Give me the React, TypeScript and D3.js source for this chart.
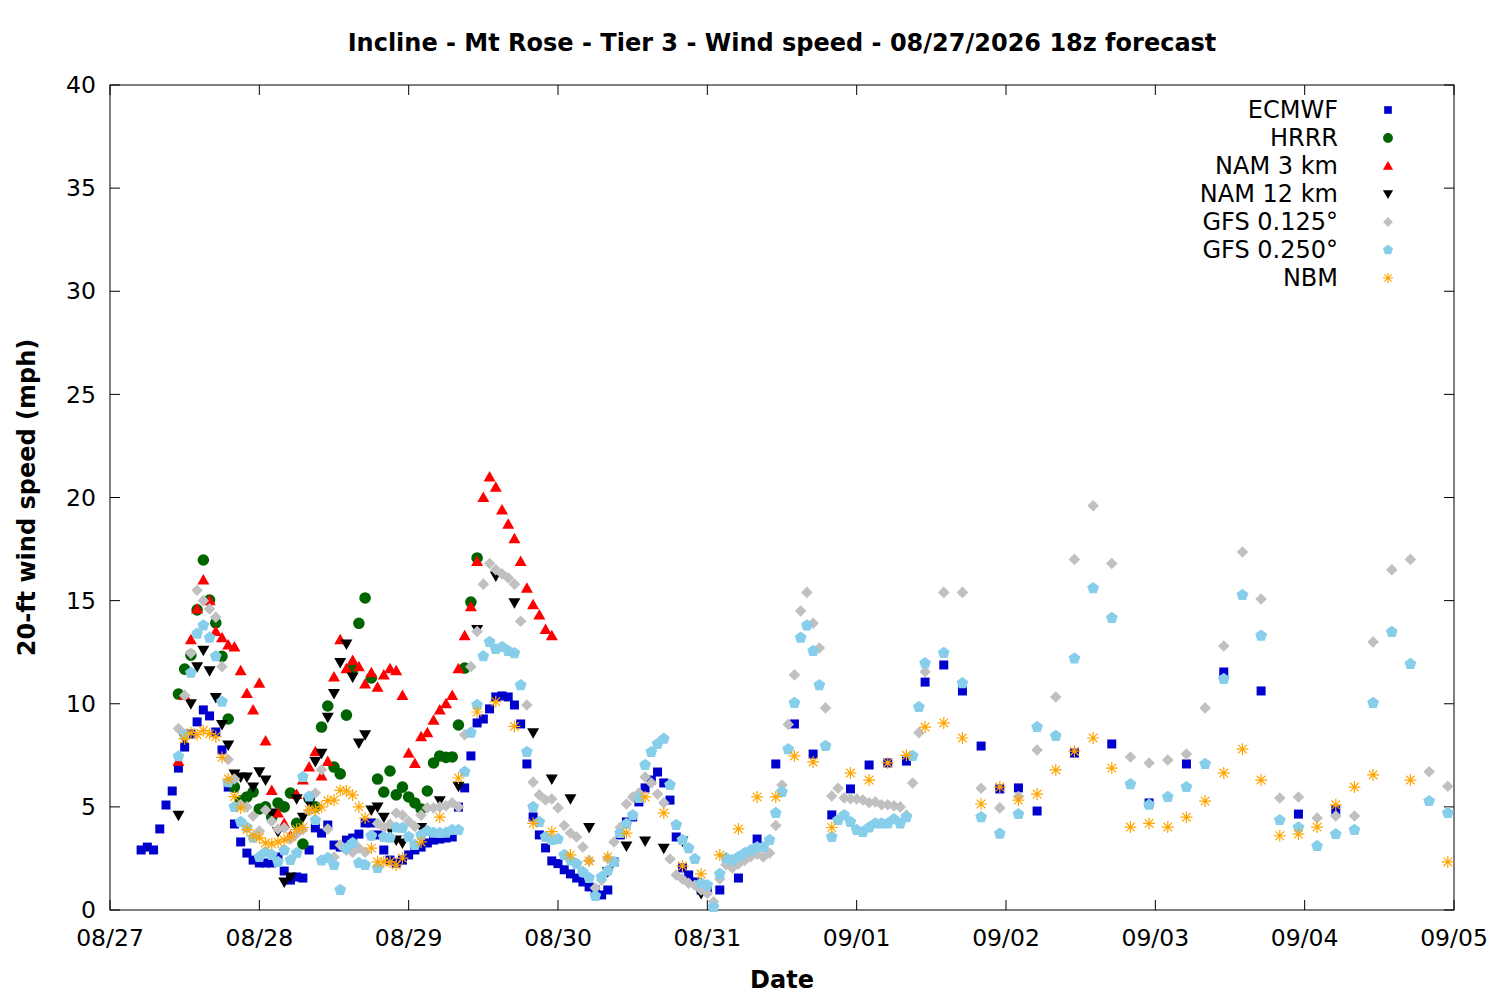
import React, { useEffect, useRef } from "react";
import * as d3 from "d3";

// times are hours after 08/27 00:00 (local)
const hourly = (start: number, n: number) => d3.range(start, start + n);
const stepped = (start: number, end: number, step: number) => d3.range(start, end + 1, step);

const dayLabels = ["08/27", "08/28", "08/29", "08/30", "08/31", "09/01", "09/02", "09/03", "09/04", "09/05"];
const speedTicks = [0, 5, 10, 15, 20, 25, 30, 35, 40];

const ecmwfHours = [...hourly(5, 92), ...stepped(98, 149, 3), ...stepped(155, 197, 6)];
const ecmwfMph = [
  2.91, 3.05, 2.91, 3.93, 5.09, 5.77, 6.88, 7.9, 8.53, 9.12, 9.7, 9.41, 8.63, 7.76, 5.96, 4.17,
  3.3, 2.76, 2.42, 2.28, 2.28, 2.28, 2.57, 1.89, 1.45, 1.6, 1.55, 2.91, 3.98, 3.73, 4.12, 3.15,
  3.05, 3.39, 3.49, 3.68, 4.22, 4.22, 3.64, 2.91, 2.42, 2.28, 2.42, 2.67, 2.91, 3.05, 3.25, 3.39,
  3.44, 3.49, 3.54, 4.99, 5.92, 7.47, 9.07, 9.26, 9.75, 10.33, 10.38, 10.33, 9.94, 9.02, 7.08, 4.51,
  3.64, 3.01, 2.38, 2.25, 1.95, 1.75, 1.55, 1.36, 1.12, 0.97, 0.73, 0.97, 2.33, 3.64, 4.27, 4.51,
  5.24, 5.92, 6.3, 6.69, 6.16, 5.33, 3.54, 2.04, 1.7, 1.36, 0.97, 1.07,
  0.97, 1.55, 3.44, 7.08, 9.02, 7.56, 4.61, 5.87, 7.03, 7.13, 7.22, 11.05, 11.88, 10.62, 7.95, 5.87,
  5.92, 4.8,
  7.61, 8.05, 5.19, 7.08, 11.54, 10.62, 4.65, 4.85,
];

const hrrrHours = hourly(11, 49);
const hrrrMph = [
  10.47, 11.68, 12.36, 14.55, 16.97, 15.03, 13.92, 12.3, 9.26, 5.96, 5.3, 5.48, 5.72, 4.9, 5.0, 4.5,
  5.19, 5.0, 5.67, 4.2, 3.2, 5.4, 5.0, 8.87, 9.89, 6.93, 6.6, 9.45, 11.7, 13.9, 15.13, 11.25,
  6.35, 5.72, 6.74, 5.58, 5.96, 5.48, 5.19, 4.9, 5.77, 7.13, 7.47, 7.4, 7.42, 8.97, 11.73, 14.93,
  17.07,
];

const nam3Hours = hourly(11, 61);
const nam3Mph = [
  7.2, 10.4, 13.1, 14.6, 16.0, 15.0, 13.5, 13.2, 12.85, 12.75, 11.6, 10.5, 9.7, 11.0, 8.2, 5.8,
  4.7, 4.2, 3.6, 5.6, 6.3, 6.93, 7.67, 6.5, 7.2, 11.3, 13.1, 11.7, 12.1, 11.8, 10.96, 11.5,
  10.8, 11.4, 11.7, 11.6, 10.4, 7.6, 7.1, 8.4, 8.6, 9.2, 9.7, 10.0, 10.4, 11.7, 13.3, 14.7,
  16.9, 20.0, 21.0, 20.5, 19.4, 18.7, 18.0, 16.9, 15.6, 14.8, 14.3, 13.6, 13.3,
];

const nam12Hours = [...hourly(11, 37), ...stepped(50, 95, 3)];
const nam12Mph = [
  4.6, 8.3, 10.0, 11.8, 12.6, 11.6, 10.3, 9.0, 8.0, 6.6, 6.45, 6.45, 5.96, 6.7, 6.3, 4.7,
  3.8, 1.36, 1.6, 5.4, 4.5, 5.2, 7.2, 7.6, 9.35, 10.5, 12.0, 12.9, 11.3, 8.1, 8.5, 4.85,
  5.0, 4.5, 3.9, 3.4, 3.25,
  4.0, 5.3, 6.0, 13.6, 16.2, 14.9, 8.6, 6.35, 5.4, 4.0, 1.85, 3.1, 3.35, 3.0, 3.35, 0.8,
];

const gfs125Hours = [...hourly(11, 121), ...stepped(134, 215, 3)];
const gfs125Mph = [
  8.8, 10.4, 12.45, 15.5, 15.0, 14.6, 14.2, 11.8, 7.3, 6.35, 5.1, 5.0, 4.56, 3.83, 4.85, 4.3,
  3.93, 3.98, 3.44, 3.7, 3.9, 4.8, 5.67, 6.8, 3.93, 2.57, 3.15, 2.9, 2.8, 3.0, 2.8, 3.6,
  4.2, 4.0, 4.17, 4.7, 4.6, 4.3, 4.05, 4.6, 4.95, 4.95, 5.0, 5.05, 5.2, 5.0, 8.5, 11.8,
  13.5, 15.8, 16.8, 16.5, 16.3, 16.1, 15.8, 14.0, 9.94, 6.2, 5.58, 5.33, 5.38, 4.95, 4.1, 3.73,
  3.54, 3.05, 2.4, 1.07, 1.45, 2.5, 3.3, 4.0, 5.14, 5.48, 5.67, 6.45, 6.16, 5.62, 5.2, 2.47,
  1.7, 1.5, 1.3, 1.2, 0.97, 0.8, 0.4, 1.5, 2.2, 2.04, 2.23, 2.4, 2.6, 2.7, 2.57, 2.76,
  4.1, 6.06, 9.0, 11.4, 14.5, 15.4, 13.9, 12.7, 9.8, 5.53, 5.9, 5.43, 5.4, 5.38, 5.33, 5.2,
  5.24, 5.1, 5.1, 5.05, 5.0, 4.6, 6.16, 8.6, 11.55,
  15.4, 15.4, 5.9, 4.95, 5.5, 7.76, 10.33, 17.0, 19.6, 16.8, 7.42, 7.13, 7.27, 7.56, 9.8, 12.8,
  17.36, 15.08, 5.43, 5.48, 4.46, 4.56, 4.56, 13.0, 16.5, 17.0, 6.7, 6.0,
];

const gfs250Hours = [...hourly(11, 121), ...stepped(134, 215, 3)];
const gfs250Mph = [
  7.45, 8.5, 11.5, 13.4, 13.8, 13.2, 12.3, 10.1, 6.2, 5.0, 4.27, 4.0, 3.5, 2.57, 2.8, 2.67,
  2.33, 2.9, 2.42, 2.76, 6.45, 5.5, 4.36, 2.4, 2.52, 2.18, 0.97, 3.0, 3.25, 2.28, 2.18, 3.6,
  2.04, 3.54, 3.5, 4.0, 3.98, 3.54, 3.15, 3.64, 3.83, 3.75, 3.73, 3.75, 3.88, 3.88, 6.7, 8.6,
  9.94, 12.3, 13.0, 12.65, 12.75, 12.56, 12.45, 10.9, 7.66, 5.0, 4.27, 3.54, 3.4, 3.44, 2.67, 2.4,
  2.23, 1.84, 1.55, 0.68, 1.6, 1.9, 2.33, 3.73, 4.17, 4.6, 5.43, 7.03, 7.66, 8.05, 8.3, 6.06,
  4.12, 3.4, 3.0, 2.47, 1.3, 1.2, 0.15, 1.75, 2.52, 2.42, 2.57, 2.76, 2.9, 3.05, 3.05, 3.4,
  4.7, 5.72, 7.8, 10.04, 13.2, 13.8, 12.56, 10.9, 7.95, 3.54, 4.36, 4.6, 4.27, 3.88, 3.78, 4.0,
  4.2, 4.2, 4.2, 4.4, 4.2, 4.5, 7.47, 9.84, 11.97,
  12.46, 11.0, 4.5, 3.7, 4.65, 8.87, 8.44, 12.2, 15.6, 14.16, 6.1, 5.1, 5.48, 5.96, 7.08, 11.2,
  15.27, 13.3, 4.36, 4.0, 3.1, 3.68, 3.88, 10.04, 13.48, 11.93, 5.28, 4.7,
];

const nbmHours = [...hourly(12, 36), ...stepped(50, 203, 3), 209, 215];
const nbmMph = [
  8.3, 8.6, 8.5, 8.7, 8.55, 8.4, 7.4, 6.35, 5.5, 4.95, 3.9, 3.6, 3.5, 3.25, 3.2, 3.3,
  3.4, 3.55, 3.9, 4.0, 4.85, 4.85, 5.0, 5.3, 5.33, 5.8, 5.77, 5.58, 5.0, 4.46, 3.0, 2.33,
  2.33, 2.33, 2.18, 2.52,
  3.3, 4.5, 6.4, 9.6, 10.1, 8.9, 4.2, 3.8, 2.67, 2.38, 2.57, 3.73, 5.48, 4.7, 2.13, 1.75,
  2.67, 3.93, 5.48, 5.48, 7.47, 7.18, 4.0, 6.64, 6.3, 7.13, 7.5, 8.87, 9.07, 8.34, 5.14, 5.96,
  5.33, 5.62, 6.79, 7.7, 8.34, 6.88, 4.02, 4.2, 4.02, 4.5, 5.28, 6.64, 7.8, 6.3, 3.6, 3.68,
  4.02, 5.1, 5.96, 6.55, 6.3, 2.33,
];

const pentagon = d3
  .range(5)
  .map((i) => {
    const a = -Math.PI / 2 + (i * 2 * Math.PI) / 5;
    return `${(6.2 * Math.cos(a)).toFixed(2)},${(6.2 * Math.sin(a)).toFixed(2)}`;
  })
  .join("L");

const shapes: Record<string, string> = {
  square: "M-4.5,-4.5h9v9h-9z",
  circle: "M5.8,0A5.8,5.8 0 1,1 -5.8,0A5.8,5.8 0 1,1 5.8,0Z",
  up: "M0,-6L6,4.5L-6,4.5Z",
  down: "M0,6L6,-4.5L-6,-4.5Z",
  diamond: "M0,-5.8L5.8,0L0,5.8L-5.8,0Z",
  pentagon: `M${pentagon}Z`,
  star: "M-6,0H6M0,-6V6M-4.3,-4.3L4.3,4.3M-4.3,4.3L4.3,-4.3",
};

const series = [
  { name: "ECMWF", hours: ecmwfHours, mph: ecmwfMph, color: "#0000cc", shape: "square" },
  { name: "HRRR", hours: hrrrHours, mph: hrrrMph, color: "#006400", shape: "circle" },
  { name: "NAM 3 km", hours: nam3Hours, mph: nam3Mph, color: "#ff0000", shape: "up" },
  { name: "NAM 12 km", hours: nam12Hours, mph: nam12Mph, color: "#000000", shape: "down" },
  { name: "GFS 0.125°", hours: gfs125Hours, mph: gfs125Mph, color: "#c0c0c0", shape: "diamond" },
  { name: "GFS 0.250°", hours: gfs250Hours, mph: gfs250Mph, color: "#87ceeb", shape: "pentagon" },
  { name: "NBM", hours: nbmHours, mph: nbmMph, color: "#ffa500", shape: "star" },
];

const WindChart: React.FC = () => {
  const svgRef = useRef<SVGSVGElement | null>(null);

  useEffect(() => {
    if (!svgRef.current) return;
    const svg = d3.select(svgRef.current);
    svg.selectAll("*").remove();

    const width = 1500;
    const height = 1000;
    const margin = { top: 85, right: 46, bottom: 90, left: 110 };
    const font = "DejaVu Sans, sans-serif";
    const tickLen = 10;

    const x = d3
      .scaleLinear()
      .domain([0, (dayLabels.length - 1) * 24])
      .range([margin.left, width - margin.right]);
    const y = d3.scaleLinear().domain([0, 40]).range([height - margin.bottom, margin.top]);

    const [x0, x1] = x.range();
    const [y0, y1] = y.range();

    // ticks, inward on all four sides
    const g = svg.append("g").attr("stroke", "#000").attr("stroke-width", 1);
    speedTicks.forEach((t) => {
      g.append("line").attr("x1", x0).attr("x2", x0 + tickLen).attr("y1", y(t)).attr("y2", y(t));
      g.append("line").attr("x1", x1).attr("x2", x1 - tickLen).attr("y1", y(t)).attr("y2", y(t));
    });
    dayLabels.forEach((_, i) => {
      const px = x(i * 24);
      g.append("line").attr("x1", px).attr("x2", px).attr("y1", y0).attr("y2", y0 - tickLen);
      g.append("line").attr("x1", px).attr("x2", px).attr("y1", y1).attr("y2", y1 + tickLen);
    });

    svg
      .append("rect")
      .attr("x", x0)
      .attr("y", y1)
      .attr("width", x1 - x0)
      .attr("height", y0 - y1)
      .attr("fill", "none")
      .attr("stroke", "#000")
      .attr("stroke-width", 1);

    svg
      .append("g")
      .selectAll("text")
      .data(speedTicks)
      .enter()
      .append("text")
      .attr("x", x0 - 14)
      .attr("y", (d) => y(d))
      .attr("dy", "0.35em")
      .attr("text-anchor", "end")
      .style("font-family", font)
      .style("font-size", "23.5px")
      .text((d) => d);

    svg
      .append("g")
      .selectAll("text")
      .data(dayLabels)
      .enter()
      .append("text")
      .attr("x", (_, i) => x(i * 24))
      .attr("y", y0 + 28)
      .attr("dy", "0.35em")
      .attr("text-anchor", "middle")
      .style("font-family", font)
      .style("font-size", "23.5px")
      .text((d) => d);

    // points, drawn in legend order so later models sit on top
    series.forEach((s) => {
      const pts = s.hours.map((h, i) => [h, s.mph[i]] as [number, number]);
      const isStar = s.shape === "star";
      svg
        .append("g")
        .selectAll("path")
        .data(pts)
        .enter()
        .append("path")
        .attr("d", shapes[s.shape])
        .attr("transform", (d) => `translate(${x(d[0])},${y(d[1])})`)
        .attr("fill", isStar ? "none" : s.color)
        .attr("stroke", isStar ? s.color : "none")
        .attr("stroke-width", 1.2);
    });

    // legend
    const legend = svg.append("g");
    series.forEach((s, i) => {
      const ly = 110 + i * 28;
      legend
        .append("text")
        .attr("x", 1338)
        .attr("y", ly)
        .attr("dy", "0.35em")
        .attr("text-anchor", "end")
        .style("font-family", font)
        .style("font-size", "24px")
        .text(s.name);
      legend
        .append("path")
        .attr("d", shapes[s.shape])
        .attr("transform", `translate(1388,${ly}) scale(0.85)`)
        .attr("fill", s.shape === "star" ? "none" : s.color)
        .attr("stroke", s.shape === "star" ? s.color : "none")
        .attr("stroke-width", 1.3);
    });

    const bold = (txt: string) =>
      svg
        .append("text")
        .attr("dy", "0.35em")
        .attr("text-anchor", "middle")
        .style("font-family", font)
        .style("font-size", "24px")
        .style("font-weight", "bold")
        .text(txt);

    bold("Incline - Mt Rose - Tier 3 - Wind speed - 08/27/2026 18z forecast")
      .attr("x", (x0 + x1) / 2)
      .attr("y", 43);

    bold("Date")
      .attr("x", (x0 + x1) / 2)
      .attr("y", 980);

    bold("20-ft wind speed (mph)").attr(
      "transform",
      `translate(27,${(y0 + y1) / 2}) rotate(-90)`
    );
  }, []);

  return (
    <svg
      ref={svgRef}
      width={1500}
      height={1000}
      style={{ position: "absolute", left: 0, top: 0, background: "#fff" }}
    />
  );
};

export default function App() {
  return <WindChart />;
}
